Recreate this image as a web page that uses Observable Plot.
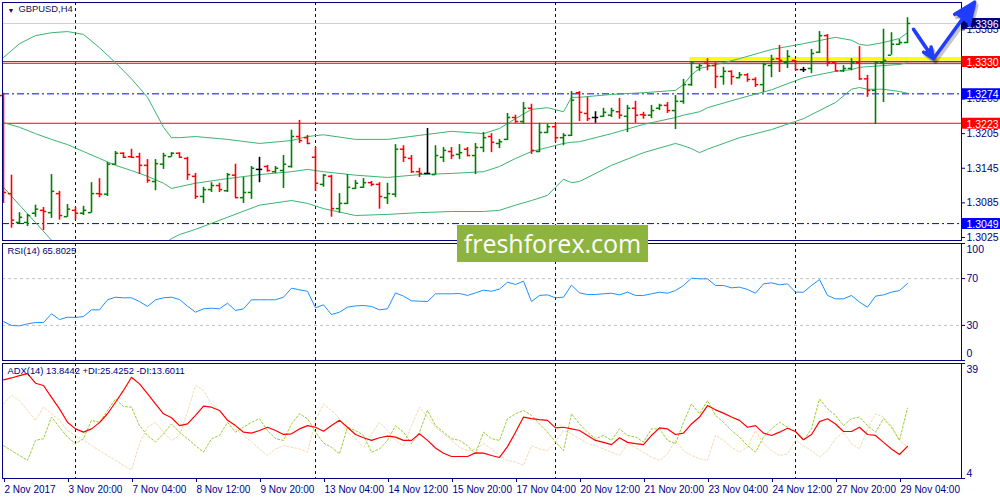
<!DOCTYPE html>
<html>
<head>
<meta charset="utf-8">
<script src="https://cdn.jsdelivr.net/npm/d3@7"></script>
<script src="https://cdn.jsdelivr.net/npm/@observablehq/plot@0.6"></script>
<style>
html,body{margin:0;padding:0;background:#fff;}
#chart{position:relative;width:1000px;height:500px;overflow:hidden;background:#fff;}
#chart svg{position:absolute;left:0;}
#logo{position:absolute;left:457px;top:225px;width:191px;height:37px;background:#8db43e;color:#fff;font-family:"Open Sans",sans-serif;font-size:25px;line-height:36px;text-align:center;}
</style>
</head>
<body>
<div id="chart"></div>
<script>
// ---------- DATA ----------
const symbolTitle = "GBPUSD,H4";
const indicatorTitles = ["RSI(14) 65.8025", "ADX(14) 13.8442 +DI:25.4252 -DI:13.6011"];
const timeLabels = ["2 Nov 2017","3 Nov 20:00","7 Nov 04:00","8 Nov 12:00","9 Nov 20:00","13 Nov 04:00","14 Nov 12:00","15 Nov 20:00","17 Nov 04:00","20 Nov 12:00","21 Nov 20:00","23 Nov 04:00","24 Nov 12:00","27 Nov 20:00","29 Nov 04:00"];
const timeLabelBars = [0,8,16,24,32,40,48,56,64,72,80,88,96,104,112];
const weekStartBars = [9,39,69,99];

const opens = [1.3271,1.3101,1.3051,1.3051,1.3067,1.3072,1.3068,1.3101,1.3061,1.3072,
1.3067,1.3068,1.3101,1.3100,1.3152,1.3171,1.3165,1.3165,1.3150,1.3122,
1.3152,1.3165,1.3171,1.3162,1.3131,1.3096,1.3108,1.3115,1.3106,1.3133,
1.3094,1.3103,1.3143,1.3148,1.3139,1.3141,1.3148,1.3200,1.3198,1.3164,
1.3117,1.3131,1.3075,1.3084,1.3110,1.3112,1.3120,1.3117,1.3094,1.3100,
1.3178,1.3162,1.3139,1.3136,1.3134,1.3164,1.3174,1.3169,1.3178,1.3167,
1.3181,1.3200,1.3188,1.3195,1.3233,1.3226,1.3249,1.3174,1.3207,1.3217,
1.3198,1.3202,1.3276,1.3240,1.3233,1.3235,1.3237,1.3243,1.3235,1.3249,
1.3238,1.3237,1.3249,1.3254,1.3245,1.3261,1.3290,1.3320,1.3327,1.3323,
1.3304,1.3313,1.3302,1.3307,1.3299,1.3290,1.3323,1.3335,1.3328,1.3332,
1.3316,1.3318,1.3346,1.3375,1.3328,1.3314,1.3318,1.3328,1.3300,1.3280,
1.3328,1.3341,1.3360,1.3363];
const highs = [1.3275,1.3133,1.3068,1.3065,1.3081,1.3077,1.3134,1.3105,1.3082,1.3077,
1.3079,1.3120,1.3127,1.3155,1.3174,1.3172,1.3178,1.3171,1.3160,1.3160,
1.3171,1.3172,1.3172,1.3164,1.3136,1.3112,1.3120,1.3119,1.3136,1.3152,
1.3129,1.3148,1.3164,1.3150,1.3148,1.3167,1.3211,1.3228,1.3202,1.3181,
1.3134,1.3133,1.3101,1.3134,1.3124,1.3127,1.3122,1.3120,1.3119,1.3186,
1.3184,1.3167,1.3145,1.3214,1.3184,1.3181,1.3181,1.3186,1.3181,1.3188,
1.3207,1.3205,1.3195,1.3240,1.3237,1.3259,1.3256,1.3223,1.3221,1.3221,
1.3205,1.3278,1.3278,1.3268,1.3243,1.3249,1.3249,1.3266,1.3254,1.3261,
1.3242,1.3254,1.3256,1.3259,1.3271,1.3299,1.3330,1.3325,1.3335,1.3328,
1.3320,1.3314,1.3311,1.3309,1.3302,1.3327,1.3341,1.3358,1.3349,1.3332,
1.3320,1.3351,1.3382,1.3377,1.3328,1.3323,1.3335,1.3356,1.3306,1.3330,
1.3386,1.3380,1.3368,1.3406];
const lows = [1.3084,1.3041,1.3049,1.3044,1.3060,1.3037,1.3058,1.3055,1.3060,1.3055,
1.3063,1.3067,1.3094,1.3096,1.3150,1.3162,1.3162,1.3134,1.3119,1.3106,
1.3143,1.3164,1.3162,1.3124,1.3091,1.3084,1.3103,1.3103,1.3103,1.3093,
1.3084,1.3091,1.3120,1.3138,1.3136,1.3110,1.3145,1.3188,1.3186,1.3105,
1.3112,1.3060,1.3067,1.3082,1.3108,1.3110,1.3113,1.3074,1.3082,1.3094,
1.3155,1.3136,1.3129,1.3134,1.3133,1.3155,1.3160,1.3160,1.3165,1.3134,
1.3172,1.3172,1.3179,1.3193,1.3223,1.3221,1.3169,1.3172,1.3205,1.3190,
1.3184,1.3200,1.3226,1.3226,1.3223,1.3233,1.3233,1.3230,1.3207,1.3223,
1.3230,1.3231,1.3245,1.3240,1.3212,1.3256,1.3287,1.3313,1.3314,1.3283,
1.3289,1.3289,1.3300,1.3294,1.3285,1.3276,1.3302,1.3311,1.3318,1.3314,
1.3311,1.3309,1.3344,1.3321,1.3313,1.3311,1.3314,1.3297,1.3268,1.3221,
1.3259,1.3341,1.3358,1.3361];
const closes = [1.3103,1.3055,1.3060,1.3063,1.3074,1.3070,1.3105,1.3063,1.3074,1.3067,
1.3072,1.3101,1.3100,1.3152,1.3171,1.3164,1.3164,1.3150,1.3124,1.3153,
1.3167,1.3171,1.3164,1.3134,1.3096,1.3108,1.3115,1.3108,1.3134,1.3094,
1.3103,1.3145,1.3143,1.3141,1.3145,1.3152,1.3200,1.3193,1.3188,1.3119,
1.3133,1.3075,1.3084,1.3112,1.3119,1.3120,1.3117,1.3096,1.3101,1.3178,
1.3164,1.3139,1.3136,1.3136,1.3167,1.3176,1.3167,1.3172,1.3167,1.3181,
1.3198,1.3190,1.3191,1.3233,1.3226,1.3249,1.3176,1.3207,1.3217,1.3198,
1.3202,1.3263,1.3242,1.3231,1.3233,1.3242,1.3245,1.3237,1.3249,1.3237,
1.3237,1.3245,1.3254,1.3245,1.3261,1.3290,1.3327,1.3323,1.3323,1.3304,
1.3313,1.3304,1.3307,1.3299,1.3290,1.3325,1.3334,1.3332,1.3339,1.3316,
1.3316,1.3344,1.3375,1.3328,1.3314,1.3318,1.3328,1.3300,1.3280,1.3328,
1.3332,1.3360,1.3363,1.3396];

// Bollinger Bands, read at these bar numbers
const bbIndex  = [0,2,4,6,8,10,12,14,16,18,20,21,22,24,28,32,36,38,40,44,48,52,56,60,62,64,66,68,70,71,72,76,80,84,85,86,87,88,92,96,100,104,106,107,108,110,112,113];
const bbUpper  = [1.3337,1.3361,1.3375,1.3380,1.3382,1.3377,1.3354,1.3328,1.3300,1.3268,1.3216,1.3198,1.3198,1.3200,1.3195,1.3188,1.3193,1.3200,1.3203,1.3195,1.3195,1.3202,1.3209,1.3205,1.3214,1.3231,1.3247,1.3250,1.3243,1.3268,1.3268,1.3273,1.3276,1.3280,1.3290,1.3307,1.3318,1.3321,1.3335,1.3351,1.3361,1.3372,1.3367,1.3360,1.3358,1.3363,1.3370,1.3380];
const bbMiddle = [1.3224,1.3216,1.3205,1.3195,1.3186,1.3174,1.3162,1.3150,1.3141,1.3131,1.3119,1.3110,1.3113,1.3119,1.3127,1.3134,1.3139,1.3143,1.3139,1.3133,1.3129,1.3134,1.3136,1.3139,1.3148,1.3162,1.3174,1.3181,1.3188,1.3190,1.3191,1.3205,1.3221,1.3233,1.3237,1.3240,1.3243,1.3250,1.3266,1.3281,1.3302,1.3313,1.3316,1.3320,1.3321,1.3323,1.3325,1.3328];
const bbLower  = [1.3112,1.3081,1.3051,1.3020,1.2999,1.2982,1.2971,1.2971,1.2982,1.2999,1.3014,1.3023,1.3030,1.3039,1.3060,1.3081,1.3089,1.3084,1.3075,1.3063,1.3065,1.3068,1.3070,1.3070,1.3072,1.3081,1.3089,1.3098,1.3126,1.3120,1.3122,1.3150,1.3172,1.3188,1.3184,1.3179,1.3172,1.3178,1.3198,1.3212,1.3231,1.3259,1.3282,1.3285,1.3282,1.3282,1.3278,1.3275];

const rsi = [33.3,29.9,29.6,31.3,32.5,32.5,39.9,35.0,37.0,36.8,
37.6,43.3,43.3,51.9,54.1,53.6,53.6,50.4,46.2,51.9,
53.6,54.1,52.1,46.4,41.3,44.2,44.7,44.2,49.0,42.7,
44.2,51.9,51.9,51.9,51.9,54.1,61.8,60.4,59.2,45.0,
47.6,39.3,41.3,45.6,46.7,47.0,46.2,43.3,44.2,57.8,
55.0,51.0,50.7,50.4,57.0,57.0,57.0,57.3,55.6,57.8,
60.1,59.2,61.0,66.9,65.0,67.8,50.4,55.6,56.1,53.6,
54.1,64.4,57.8,56.4,56.4,57.0,57.5,56.1,58.4,55.6,
55.6,57.0,58.4,57.5,59.8,64.1,70.4,69.8,69.8,64.1,
64.1,62.1,62.7,60.7,57.5,65.5,66.4,64.7,65.5,58.4,
58.4,64.1,69.2,55.6,52.7,52.7,55.6,49.9,45.6,55.0,
56.1,58.4,59.8,65.8];
const rsiLevels = [30,70];
const rsiTicks = [0,30,70,100];

const adx = [34.0,34.6,35.3,35.9,33.0,32.3,28.7,25.2,21.1,19.1,
18.1,19.1,21.0,23.7,27.2,30.8,34.8,32.8,29.8,26.7,
23.7,22.5,20.1,20.6,23.2,26.0,25.7,24.7,21.7,20.1,
18.1,17.8,18.6,19.6,18.6,17.4,17.6,19.1,20.1,19.6,
18.4,20.1,21.7,19.6,17.4,16.4,15.6,16.4,16.9,16.6,
15.6,15.6,17.6,15.6,13.3,11.7,10.7,10.7,10.7,11.8,
11.7,11.0,10.4,13.7,18.1,22.7,22.2,21.9,21.7,19.4,
19.6,19.1,18.6,17.1,15.6,15.0,14.3,16.4,15.0,14.6,
14.3,17.1,19.4,19.1,17.4,17.8,20.6,22.7,26.2,24.9,
23.9,22.7,21.7,19.6,20.1,17.8,17.1,18.1,19.3,18.3,
15.8,17.4,21.3,22.2,20.6,18.3,18.3,19.6,17.4,17.1,
15.0,13.0,11.3,13.8];
const plusDI = [14.0,12.5,11.0,9.5,15.6,16.1,22.7,19.6,16.6,14.6,
16.1,21.7,21.1,24.7,28.2,25.9,25.7,20.1,17.1,15.1,
17.6,20.6,18.1,16.1,14.0,12.0,16.1,17.1,21.1,18.1,
19.6,21.1,22.2,18.6,16.1,15.6,20.6,23.7,22.2,18.1,
14.8,13.5,11.5,19.6,18.6,17.1,12.0,13.0,15.6,20.1,
18.1,14.6,18.1,24.7,20.1,18.1,16.1,15.6,14.0,11.5,
18.1,16.1,15.6,22.2,23.7,24.7,23.2,20.6,18.1,15.1,
12.5,23.7,20.6,18.1,16.1,17.1,15.6,19.1,17.1,16.6,
15.1,19.1,19.1,15.6,14.6,21.1,26.7,23.7,27.7,23.2,
21.1,18.6,16.6,14.0,12.0,16.6,19.1,21.1,19.6,18.1,
15.6,19.1,28.2,25.2,23.2,20.1,22.2,22.7,20.1,18.1,
22.2,19.6,15.6,25.4];
const minusDI = [26.7,29.3,27.7,24.7,21.7,25.7,23.7,21.7,18.6,17.1,
15.6,14.0,12.5,11.0,9.5,8.0,6.6,14.6,19.6,21.1,
18.1,15.6,17.1,24.2,32.3,30.8,26.7,24.7,22.2,19.1,
17.1,15.1,13.0,11.0,13.0,14.0,13.5,13.0,12.0,21.7,
26.7,24.7,22.2,18.1,16.1,13.5,17.6,21.1,18.6,15.6,
14.0,20.1,25.7,22.7,19.6,17.6,15.6,13.5,12.5,13.0,
14.6,13.0,11.0,9.5,9.0,8.0,14.0,13.0,12.5,15.1,
18.6,17.6,16.1,14.6,14.0,13.0,12.0,11.0,14.6,13.5,
12.0,10.5,9.5,11.5,15.6,12.5,11.0,10.0,9.5,17.1,
15.6,13.5,12.0,13.5,18.6,14.6,12.5,11.0,11.5,15.6,
14.0,12.5,10.5,12.5,16.1,18.1,14.6,13.0,19.1,23.7,
22.7,20.1,15.6,13.6];
const adxTicks = [4,39];

// price scale ticks and drawn levels
const priceTicks = [1.3025,1.3085,1.3145,1.3205,1.3265,1.3325,1.3385];
const bidPrice = 1.3396;
const redLevels = [1.3330,1.3327,1.3223];
const blueLevels = [1.3274,1.3049];
const levelLabels = [1.3396,1.3330,1.3274,1.3223,1.3049];
const highlightZone = {from: 85.8, low: 1.3331, high: 1.3337, shadow: 1.3324};
const arrowNotes = [
  {x1: 113.75, y1: 1.3386, x2: 116.25, y2: 1.3335},
  {x1: 116.25, y1: 1.3335, x2: 121.4,  y2: 1.3433}
];

// ---------- RENDER ----------
const FONT = "'Liberation Sans', Arial, sans-serif";
const NAVY = "#000080";
const xDomain = [-0.125, 119.75];
const colorOf = (o, c) => c > o ? "#008000" : c < o ? "#ff0000" : "#000000";
const bars = closes.map((c, i) => ({i, o: opens[i], h: highs[i], l: lows[i], c, col: colorOf(opens[i], c)}));
const bands = bbIndex.map((i, k) => ({i, u: bbUpper[k], m: bbMiddle[k], l: bbLower[k]}));
const labelBg = {"1.3396": "#000080", "1.3330": "#ff0000", "1.3274": "#0000ff", "1.3223": "#ff0000", "1.3049": "#0000ff"};
const series = (arr) => arr.map((v, i) => ({i, v}));
const baseStyle = {fontFamily: FONT, fontSize: "10.5px", color: NAVY, background: "transparent", overflow: "visible"};
const chart = document.getElementById("chart");
function place(svg, top) { svg.style.top = top + "px"; chart.appendChild(svg); }

const main = Plot.plot({
  width: 1000, height: 242,
  marginTop: 2, marginBottom: 2, marginLeft: 2, marginRight: 39,
  x: {domain: xDomain, axis: null},
  y: {domain: [1.30197, 1.34324], axis: null},
  color: {type: "identity"},
  style: baseStyle,
  marks: [
    Plot.rect([highlightZone], {x1: "from", x2: () => xDomain[1], y1: "shadow", y2: "low", fill: "#777", fillOpacity: 0.35}),
    Plot.rect([highlightZone], {x1: "from", x2: () => xDomain[1], y1: "low", y2: "high", fill: "#ffff00"}),
    Plot.ruleX(weekStartBars, {x: d => d, stroke: NAVY, strokeDasharray: "3,3"}),
    Plot.ruleY([bidPrice], {y: d => d, stroke: "#d0d0d0"}),
    Plot.ruleY(redLevels, {y: d => d, stroke: "#ff0000"}),
    Plot.ruleY(blueLevels, {y: d => d, stroke: "#0000ff", strokeDasharray: "7,3,2,3"}),
    Plot.line(bands, {x: "i", y: "u", stroke: "#3cb371", strokeWidth: 1, clip: true}),
    Plot.line(bands, {x: "i", y: "m", stroke: "#3cb371", strokeWidth: 1, clip: true}),
    Plot.line(bands, {x: "i", y: "l", stroke: "#3cb371", strokeWidth: 1, clip: true}),
    Plot.ruleX(bars, {x: "i", y1: "l", y2: "h", stroke: "col", strokeWidth: 1.6}),
    Plot.ruleY(bars, {y: "o", x1: d => d.i - 0.4, x2: "i", stroke: "col", strokeWidth: 1.5}),
    Plot.ruleY(bars, {y: "c", x1: "i", x2: d => d.i + 0.4, stroke: "col", strokeWidth: 1.5}),
    Plot.frame({stroke: NAVY}),
    Plot.axisY({anchor: "right", ticks: priceTicks, tickFormat: d => d.toFixed(4), tickSize: 3, tickPadding: 2, stroke: NAVY, fill: NAVY, label: null}),
    Plot.ruleY(levelLabels, {y: d => d, x1: () => xDomain[1] + 0.06, x2: () => xDomain[1] + 4.9, stroke: d => labelBg[d.toFixed(4)], strokeWidth: 11}),
    Plot.text(levelLabels, {y: d => d, x: () => xDomain[1], text: d => d.toFixed(4), dx: 5, dy: 1, textAnchor: "start", fill: "white"}),
    Plot.arrow(arrowNotes, {x1: "x1", y1: "y1", x2: "x2", y2: "y2", stroke: "#000", strokeOpacity: 0.22, fill: "#000", fillOpacity: 0.22, strokeWidth: 4, headLength: 16, headAngle: 45, dx: 2, dy: 3}),
    Plot.arrow(arrowNotes, {x1: "x1", y1: "y1", x2: "x2", y2: "y2", stroke: "#1f3cff", fill: "#1f3cff", strokeWidth: 3.5, headLength: 16, headAngle: 45}),
    Plot.text(["\u25BC"], {frameAnchor: "top-left", dx: 5, dy: 6, fontSize: 7, fill: "#101050"}),
    Plot.text([symbolTitle], {frameAnchor: "top-left", dx: 16, dy: 3, textAnchor: "start", fill: "#101050", fontSize: 9.4})
  ]
});
place(main, 0);

const rsiPlot = Plot.plot({
  width: 1000, height: 119,
  marginTop: 1, marginBottom: 1, marginLeft: 2, marginRight: 39,
  x: {domain: xDomain, axis: null},
  y: {domain: [0, 100], axis: null},
  style: baseStyle,
  marks: [
    Plot.ruleY(rsiLevels, {y: d => d, stroke: "#c0c0c0", strokeDasharray: "3,3"}),
    Plot.ruleX(weekStartBars, {x: d => d, stroke: NAVY, strokeDasharray: "3,3"}),
    Plot.line(series(rsi), {x: "i", y: "v", stroke: "#1e90ff", strokeWidth: 1}),
    Plot.frame({stroke: NAVY}),
    Plot.axisY({anchor: "right", ticks: rsiTicks, tickFormat: d => (d === 0 || d === 100) ? "" : String(d), tickSize: 3, tickPadding: 2, stroke: NAVY, fill: NAVY, label: null}),
    Plot.text([rsiTicks[rsiTicks.length - 1]], {y: d => d, x: () => xDomain[1], text: d => String(d), dx: 5, dy: 6, textAnchor: "start", fill: NAVY}),
    Plot.text([rsiTicks[0]], {y: d => d, x: () => xDomain[1], text: d => String(d), dx: 5, dy: -7, textAnchor: "start", fill: NAVY}),
    Plot.text([indicatorTitles[0]], {frameAnchor: "top-left", dx: 5, dy: 4, textAnchor: "start", fill: NAVY, fontSize: 9.4})
  ]
});
place(rsiPlot, 242);

const adxPlot = Plot.plot({
  width: 1000, height: 139,
  marginTop: 2, marginBottom: 22, marginLeft: 2, marginRight: 39,
  x: {domain: xDomain},
  y: {domain: [4, 39], axis: null},
  style: baseStyle,
  marks: [
    Plot.ruleX(weekStartBars, {x: d => d, stroke: NAVY, strokeDasharray: "3,3"}),
    Plot.line(series(minusDI), {x: "i", y: "v", stroke: "#f5d9ae", strokeWidth: 1, strokeDasharray: "2,2"}),
    Plot.line(series(plusDI), {x: "i", y: "v", stroke: "#9acd32", strokeWidth: 1, strokeDasharray: "2,2"}),
    Plot.line(series(adx), {x: "i", y: "v", stroke: "#ff0000", strokeWidth: 1.2}),
    Plot.frame({stroke: NAVY}),
    Plot.axisX({anchor: "bottom", ticks: timeLabelBars, tickFormat: d => timeLabels[timeLabelBars.indexOf(d)], tickSize: 4, tickPadding: 3, textAnchor: "start", dx: 1, stroke: NAVY, fill: NAVY, fontSize: 10, label: null}),
    Plot.axisY({anchor: "right", ticks: adxTicks, tickFormat: () => "", tickSize: 3, stroke: NAVY, label: null}),
    Plot.text([adxTicks[1]], {y: d => d, x: () => xDomain[1], text: d => String(d), dx: 5, dy: 6, textAnchor: "start", fill: NAVY}),
    Plot.text([adxTicks[0]], {y: d => d, x: () => xDomain[1], text: d => String(d), dx: 5, dy: -5, textAnchor: "start", fill: NAVY}),
    Plot.text([indicatorTitles[1]], {frameAnchor: "top-left", dx: 5, dy: 4, textAnchor: "start", fill: NAVY, fontSize: 9.4})
  ]
});
place(adxPlot, 361);

const logo = document.createElement("div");
logo.id = "logo";
logo.textContent = "freshforex.com";
chart.appendChild(logo);
</script>
</body>
</html>
